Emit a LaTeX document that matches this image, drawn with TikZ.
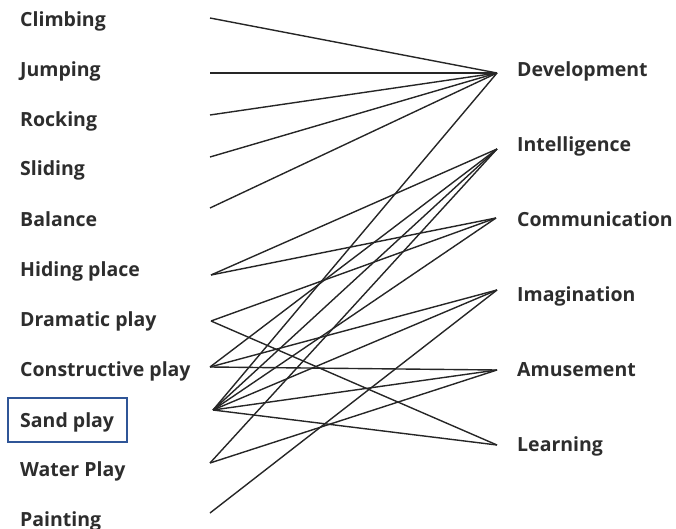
\documentclass[tikz,border=0pt]{standalone}
\usepackage{fontspec}
\setmainfont{Open Sans}
\usepackage{xcolor}
\usepackage{tikz}
\usetikzlibrary{positioning}
\definecolor{boxblue}{RGB}{47,85,151}
\definecolor{labelgray}{RGB}{45,45,45}

\begin{document}
\begin{tikzpicture}[x=1pt,y=-1pt,
  lbl/.style={anchor=base west,inner sep=0pt,font=\bfseries\fontsize{19.5}{22}\selectfont,text=labelgray},
  link/.style={line width=1.4pt,black!85}]
  \useasboundingbox (0,0) rectangle (676,529);

  \node[lbl] (climbing) at (20,27) {Climbing};
  \node[lbl] (jumping) at (20,77) {Jumping};
  \node[lbl] (rocking) at (20,127) {Rocking};
  \node[lbl] (sliding) at (20,176) {Sliding};
  \node[lbl] (balance) at (20,226) {Balance};
  \node[lbl] (hiding) at (20,276) {Hiding place};
  \node[lbl] (dramatic) at (20,326) {Dramatic play};
  \node[lbl] (constructive) at (20,376) {Constructive play};
  \node[lbl] (sand) at (20,427) {Sand play};
  \node[lbl] (water) at (20,476) {Water Play};
  \node[lbl] (painting) at (20,526) {Painting};

  \node[lbl] (development) at (517,77) {Development};
  \node[lbl] (intelligence) at (517,152) {Intelligence};
  \node[lbl] (communication) at (517,226) {Communication};
  \node[lbl] (imagination) at (517,301) {Imagination};
  \node[lbl] (amusement) at (517,376) {Amusement};
  \node[lbl] (learning) at (517,451) {Learning};

  \coordinate (climbingE) at (210,18);
  \coordinate (jumpingE) at (210,73);
  \coordinate (rockingE) at (210,115);
  \coordinate (slidingE) at (210,157);
  \coordinate (balanceE) at (210,208);
  \coordinate (hidingE) at (211,275);
  \coordinate (dramaticE) at (211,321);
  \coordinate (constructiveE) at (210,367);
  \coordinate (sandE) at (213,410);
  \coordinate (waterE) at (210,463);
  \coordinate (paintingE) at (210,513);

  \coordinate (developmentE) at (497,73);
  \coordinate (intelligenceE) at (497,149);
  \coordinate (communicationE) at (496,218);
  \coordinate (imaginationE) at (497,290);
  \coordinate (amusementE) at (497,370);
  \coordinate (learningE) at (497,445);

  \foreach \from/\to in {climbingE/developmentE, jumpingE/developmentE,
      rockingE/developmentE, slidingE/developmentE, balanceE/developmentE,
      hidingE/intelligenceE, hidingE/communicationE,
      dramaticE/communicationE, dramaticE/learningE,
      constructiveE/intelligenceE, constructiveE/imaginationE, constructiveE/amusementE,
      sandE/developmentE, sandE/intelligenceE, sandE/communicationE,
      sandE/imaginationE, sandE/amusementE, sandE/learningE,
      waterE/intelligenceE, waterE/amusementE,
      paintingE/imaginationE}
    \draw[link] (\from) -- (\to);

  \draw[boxblue,line width=2.6pt] (8,398) rectangle (127,442);
\end{tikzpicture}
\end{document}
